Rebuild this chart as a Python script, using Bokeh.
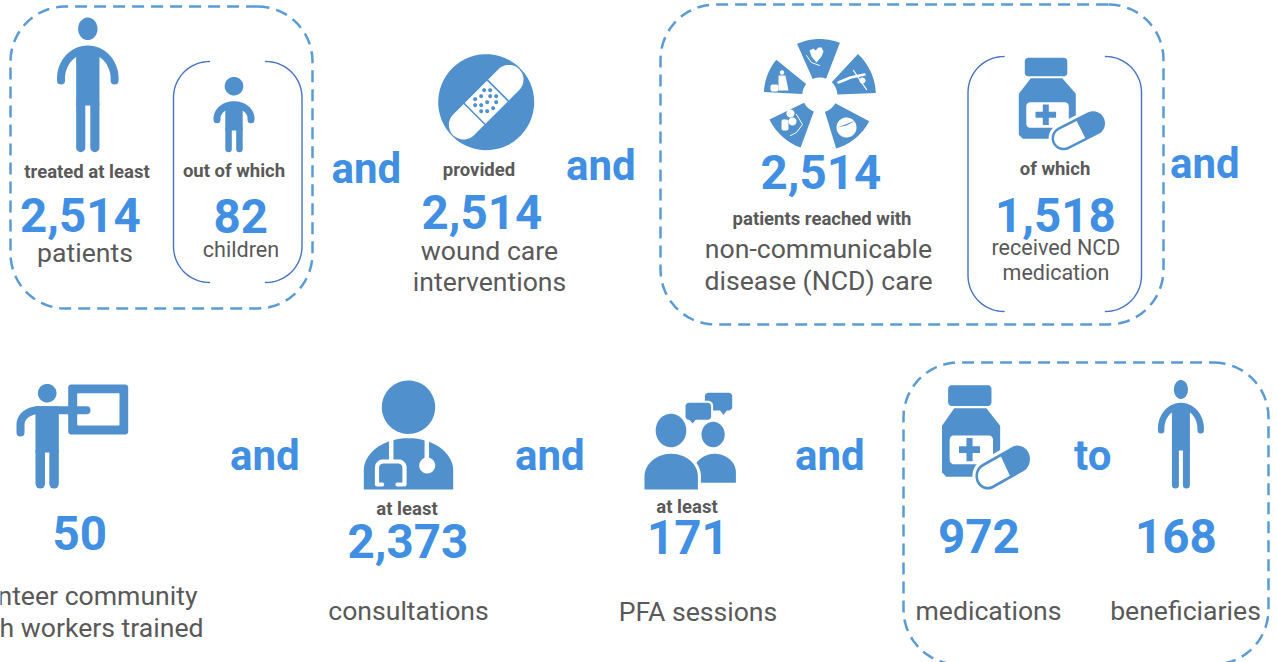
import numpy as np
from bokeh.plotting import figure
from bokeh.models import Range1d
from bokeh.core.properties import value
from bokeh.embed import file_html
from bokeh.resources import INLINE

# ---- content of the infographic ----
treated_patients = 2514
treated_children = 82
wound_interventions = 2514
ncd_patients = 2514
ncd_medicated = 1518
chw_trained = 50
consultations = 2373
pfa_sessions = 171
medications = 972
beneficiaries = 168
lead_labels = ["treated at least", "out of which", "provided", "patients reached with",
               "of which", "at least", "at least"]
unit_labels = ["patients", "children", "wound care", "interventions", "non-communicable",
               "disease (NCD) care", "received NCD", "medication", "consultations",
               "PFA sessions", "medications", "beneficiaries"]
chw_labels = ["Volunteer community", "health workers trained"]
joiners = ["and", "and", "and", "and", "and", "and", "to"]

ICON = "#5090CD"
NUM = "#408FE2"
GREY = "#595959"
DASH = "#5B9BD5"
BRACKET = "#4472C4"
WHITE = "#FFFFFF"

p = figure(width=1277, height=662, x_range=Range1d(0, 1277), y_range=Range1d(662, 0),
           toolbar_location=None, output_backend="svg", min_border=0,
           x_axis_location=None, y_axis_location=None, outline_line_color=None,
           background_fill_color=WHITE, border_fill_color=WHITE)
p.grid.visible = False


# ---- drawing helpers (page pixel coordinates, y downwards) ----
def poly(xs, ys, color=ICON):
    p.patch(list(xs), list(ys), fill_color=color, line_color=None)


def stroke(xs, ys, w, color=ICON, cap="round", dash=None):
    kw = {"line_dash": dash} if dash else {}
    p.line(list(xs), list(ys), line_width=w, line_color=color, line_cap=cap, line_join="round", **kw)


def ell(cx, cy, rx, ry=None, color=ICON):
    ry = rx if ry is None else ry
    t = np.linspace(0, 2 * np.pi, 60)
    poly(cx + rx * np.cos(t), cy + ry * np.sin(t), color)


def rrect_pts(x0, y0, x1, y1, r):
    xs, ys = [], []
    for cx, cy, a0 in [(x1 - r, y0 + r, -90), (x1 - r, y1 - r, 0), (x0 + r, y1 - r, 90), (x0 + r, y0 + r, 180)]:
        t = np.radians(np.linspace(a0, a0 + 90, 16))
        xs += list(cx + r * np.cos(t))
        ys += list(cy + r * np.sin(t))
    return xs, ys


def rrect(x0, y0, x1, y1, r, color=ICON):
    poly(*rrect_pts(x0, y0, x1, y1, r), color)


def dashed_box(x0, y0, x1, y1, r):
    xs, ys = rrect_pts(x0, y0, x1, y1, r)
    stroke(xs + xs[:1], ys + ys[:1], 2.5, DASH, cap="butt", dash="12 7")


def brackets(x0, y0, x1, y1, gl, gr, r=36):
    def arc(cx, cy, a0, a1):
        t = np.radians(np.linspace(a0, a1, 20))
        return list(cx + r * np.cos(t)), list(cy + r * np.sin(t))
    ax, ay = arc(x0 + r, y0 + r, 270, 180)
    bx, by = arc(x0 + r, y1 - r, 180, 90)
    stroke([gl] + ax + bx + [gl], [y0] + ay + by + [y1], 1.4, BRACKET)
    ax, ay = arc(x1 - r, y0 + r, -90, 0)
    bx, by = arc(x1 - r, y1 - r, 0, 90)
    stroke([gr] + ax + bx + [gr], [y0] + ay + by + [y1], 1.4, BRACKET)


def person(cx, hy, hrx, hry, top, W, arm_end, a, tw, g, gap_top, bottom, y0):
    ell(cx, hy, hrx, hry)
    rx = W / 2 - a / 2
    ry = y0 - (top + a / 2)
    t = np.radians(np.linspace(180, 360, 50))
    xs = [cx - rx] + list(cx + rx * np.cos(t)) + [cx + rx]
    ys = [arm_end - a / 2] + list(y0 + ry * np.sin(t)) + [arm_end - a / 2]
    stroke(xs, ys, a)
    # filled shoulder dome between the arms
    t2 = np.radians(np.linspace(235, 305, 30))
    poly(list(cx + rx * np.cos(t2)), list(y0 + ry * np.sin(t2)))
    poly([cx - tw, cx + tw, cx + tw, cx - tw], [top + a / 2, top + a / 2, gap_top + 1, gap_top + 1])
    lw = tw - g
    for s in (-1, 1):
        lx = cx + s * (g + lw / 2)
        stroke([lx, lx], [gap_top, bottom - lw / 2], lw)


def dome(x0, x1, top, shoulder, bottom, color=ICON):
    cx, rx, ry = (x0 + x1) / 2, (x1 - x0) / 2, shoulder - top
    t = np.radians(np.linspace(180, 360, 50))
    xs = [x0] + list(cx + rx * np.cos(t)) + [x1]
    ys = [bottom] + list(shoulder + ry * np.sin(t)) + [bottom]
    poly(xs, ys, color)


def bottle(ox, oy, sx, sy):
    """Medicine bottle and capsule; the shape is laid out at unit scale from (ox, oy)."""
    X = lambda v: ox + sx * np.asarray(v, float)
    Y = lambda v: oy + sy * np.asarray(v, float)
    def rr(x0, y0, x1, y1, r, c=ICON):
        xs, ys = rrect_pts(x0, y0, x1, y1, r)
        poly(X(xs), Y(ys), c)
    rr(6, 1, 48.5, 19.5, 3.5)
    poly(X([12, 43.5, 57, 57, 33.5, 4, 0, 0]), Y([21.5, 21.5, 37, 72, 82, 82, 78, 37]))
    rr(7.5, 45.5, 50, 71, 4, WHITE)
    poly(X([24, 30, 30, 37.3, 37.3, 30, 30, 24, 24, 16.7, 16.7, 24]),
         Y([47.7, 47.7, 55, 55, 61, 61, 68.3, 68.3, 61, 61, 55, 55]))
    # capsule
    ang = np.radians(27)
    ux, uy, vx, vy = np.cos(ang), -np.sin(ang), np.sin(ang), np.cos(ang)
    cx, cy, L = 59.5, 74, 16.5
    def caps(r, hi):
        xs, ys = [], []
        if hi == L:
            angs = np.radians(np.linspace(-90, 90, 24))
        else:
            angs = np.radians([-90, 90])
        for a in angs:
            xs.append(cx + hi * ux + r * (np.cos(a) * ux + np.sin(a) * vx))
            ys.append(cy + hi * uy + r * (np.cos(a) * uy + np.sin(a) * vy))
        for a in np.radians(np.linspace(90, 270, 24)):
            xs.append(cx - L * ux + r * (np.cos(a) * ux + np.sin(a) * vx))
            ys.append(cy - L * uy + r * (np.cos(a) * uy + np.sin(a) * vy))
        return X(xs), Y(ys)
    poly(*caps(15, L), WHITE)
    poly(*caps(12, L), ICON)
    poly(*caps(9.5, 3), WHITE)


def wedge(cx, cy, a0, a1, r0, r1):
    t = np.radians(np.linspace(a0, a1, 20)) - np.pi / 2
    t2 = t[::-1]
    poly(list(cx + r1 * np.cos(t)) + list(cx + r0 * np.cos(t2)),
         list(cy + r1 * np.sin(t)) + list(cy + r0 * np.sin(t2)))


def bubble(x0, y0, x1, y1, tx, ty, halo=False):
    xs, ys = rrect_pts(x0, y0, x1, y1, 3.5)
    if halo:
        rrect(x0 - 2, y0 - 2, x1 + 2, y1 + 2, 5, WHITE)
    poly(xs, ys)
    poly([tx - 4, tx + 4, tx], [y1 - 1, y1 - 1, ty])


# the text glyph sits about this many em below the requested baseline in this renderer
BASE = 0.365


def txt(s, x, y, size, color=GREY, bold=False, font="Roboto", align="center"):
    p.text([x], [y - BASE * size], text=[s], text_font=value(font), text_font_size=f"{size}px",
           text_font_style="bold" if bold else "normal", text_color=color,
           text_align=align, text_baseline="alphabetic")


def big(v, x, y, size=47.5):
    txt(f"{v:,}", x - 0.7, y, size, NUM, True)


def lead(s, x, y, size=18.5):
    txt(s, x - 0.5, y, size, GREY, True)


def join(s, x, y):
    txt(s, x - 0.7, y, 42, NUM, True)


def unit(s, x, y, size=26.6, align="center"):
    txt(s, x, y, size, align=align)


# ---- frames ----
dashed_box(10, 6, 312, 308, 55)
dashed_box(660, 4, 1163, 324, 55)
dashed_box(903, 362, 1268, 664, 55)
brackets(173, 61, 301.5, 282, 209, 265)
brackets(967.5, 56, 1141, 311, 1003, 1105)

# ---- icons: top row ----
person(87.3, 28.3, 9.7, 11.3, 45, 61.6, 84, 8, 11.65, 2.5, 104, 151.7, 78)
person(233.5, 85.7, 9.3, 9.3, 100.7, 41, 122.7, 7, 8.7, 2.2, 129, 151.7, 118)

ell(485.7, 101.7, 48)
bx, by = 485.7, 101.7
t = np.radians(np.linspace(-90, 90, 24))
u = np.array([np.cos(np.radians(45)), -np.sin(np.radians(45))])
v = np.array([np.sin(np.radians(45)), np.cos(np.radians(45))])
L_, R_ = 32, 14.7
cap1 = [(bx + L_ * u[0] + R_ * (np.cos(a) * u[0] + np.sin(a) * v[0]),
         by + L_ * u[1] + R_ * (np.cos(a) * u[1] + np.sin(a) * v[1])) for a in t]
cap2 = [(bx - L_ * u[0] - R_ * (np.cos(a) * u[0] + np.sin(a) * v[0]),
         by - L_ * u[1] - R_ * (np.cos(a) * u[1] + np.sin(a) * v[1])) for a in t]
poly([c[0] for c in cap1 + cap2], [c[1] for c in cap1 + cap2], WHITE)
for s in (-1, 1):
    stroke([bx + s * 16.5 * u[0] - 15 * v[0], bx + s * 16.5 * u[0] + 15 * v[0]],
           [by + s * 16.5 * u[1] - 15 * v[1], by + s * 16.5 * u[1] + 15 * v[1]], 1.6, ICON, cap="butt")
dots_x = [191, 209, 182, 209, 227, 164, 200, 227, 164, 182, 218, 182, 200]
dots_y = [149, 149, 167, 167, 167, 176, 185, 185, 194, 194, 203, 212, 212]
for dx, dy in zip(dots_x, dots_y):
    ell(420 + dx / 3, 40 + dy / 3, 2)

wc_x, wc_y = 819.3, 94.5
for a0, a1 in [(-24, 21), (43, 88), (118, 163), (200, 244), (273, 309)]:
    wedge(wc_x, wc_y, a0, a1, 17.5, 56)
# small white pictograms inside the wedges
poly([809, 813, 815, 818, 821, 823, 821, 816, 811], [50, 48, 50, 47, 47, 51, 56, 62, 56], WHITE)
stroke([806, 811, 819], [55, 62, 65], 1, WHITE)
stroke([838, 850, 864], [82, 77, 74], 2.5, WHITE)
ell(862, 80, 3, color=WHITE)
stroke([853, 866], [70, 89], 1.3, WHITE)
ell(846, 127, 10, color=WHITE)
poly([837, 846, 855], [127, 125, 120], ICON)
ell(790, 113, 4, color=WHITE)
ell(792, 121, 4, color=WHITE)
rrect(781, 119, 788, 130, 2, WHITE)
stroke([796, 802, 796, 790], [114, 124, 132, 135], 1, WHITE)
ell(781.5, 72, 2.2, color=WHITE)
poly([778, 785, 788, 778], [75, 75, 90, 90], WHITE)
rrect(770, 84, 778, 91, 2, WHITE)

bottle(1018.3, 56.3, 1, 1)

# ---- icons: bottom row ----
rrect(67.7, 384, 127.7, 434, 3)
rrect(76.7, 392.7, 119, 425, 1, WHITE)
ell(46.7, 392.7, 9.3)
t = np.radians(np.linspace(180, 270, 20))
stroke([20] + list(38 + 18 * np.cos(t)) + [86], [432] + list(424 + 14.3 * np.sin(t)) + [409.7], 8)
poly([35, 58.3, 58.3, 35], [405.7, 405.7, 452, 452])
for lx in (39.75, 53.55):
    stroke([lx, lx], [451, 483.3], 9.5)

ell(408, 406.7, 26.7)
dome(363.3, 452.7, 437.7, 470, 489)
stroke([390.7, 390.7], [437, 461], 4.5, WHITE, cap="butt")
stroke([426.3, 426.3], [437, 460], 4.5, WHITE, cap="butt")
ell(426.7, 465, 8, color=WHITE)
t1 = np.radians(np.linspace(180, 270, 10))
t2 = np.radians(np.linspace(270, 360, 10))
stroke([381.7, 376.5] + list(382.5 + 6 * np.cos(t1)) + list(398 + 6 * np.cos(t2)) + [404, 397],
       [484, 484] + list(467 + 6 * np.sin(t1)) + list(467 + 6 * np.sin(t2)) + [484, 484], 4.2, WHITE)

ell(670.5, 430, 15.3, 16.7)
ell(712.6, 434, 11.6, 12.7)
dome(693, 735.4, 453.3, 472, 482.3)
dome(641, 700.4, 450.3, 476, 489, WHITE)
dome(644, 697.4, 453.3, 476, 489)
bubble(704.4, 392.3, 731.7, 410, 723, 414.5)
bubble(685, 402.3, 710.6, 419.3, 692, 423, halo=True)

bottle(941.5, 383.5, 1.02, 1.13)
person(1180.4, 389, 7, 9.5, 402.3, 46, 433, 6.5, 9, 2, 449, 488, 428)

# ---- texts ----
lead(lead_labels[0], 87, 178)
big(treated_patients, 80.5, 232)
unit(unit_labels[0], 84.5, 262)
lead(lead_labels[1], 234, 177)
big(treated_children, 241, 233)
unit(unit_labels[1], 240.5, 257, 21.6)
join(joiners[0], 366.5, 183)

lead(lead_labels[2], 479, 176)
big(wound_interventions, 482, 229)
unit(unit_labels[2], 489, 260)
unit(unit_labels[3], 489, 291)
join(joiners[1], 601, 180)

big(ncd_patients, 821, 189)
lead(lead_labels[3], 822, 225)
unit(unit_labels[4], 818, 258)
unit(unit_labels[5], 818, 290)
lead(lead_labels[4], 1055, 175)
big(ncd_medicated, 1055.5, 232)
unit(unit_labels[6], 1055.5, 255, 21.5)
unit(unit_labels[7], 1055.5, 280, 21.5)
join(joiners[2], 1205, 178)

big(chw_trained, 80, 550)
unit(chw_labels[0], 197, 605, align="right")
unit(chw_labels[1], 203, 637, align="right")
join(joiners[3], 265, 470)

lead(lead_labels[5], 407, 515)
big(consultations, 408, 558)
unit(unit_labels[8], 408, 620)
join(joiners[4], 550, 470)

lead(lead_labels[6], 687, 513)
big(pfa_sessions, 688, 554)
unit(unit_labels[9], 697.5, 621)
join(joiners[5], 830, 470)

big(medications, 979, 553)
unit(unit_labels[10], 988, 620)
join(joiners[6], 1093, 470)
big(beneficiaries, 1176, 553)
unit(unit_labels[11], 1185, 620)

open("out.html", "w").write(file_html(p, INLINE))
